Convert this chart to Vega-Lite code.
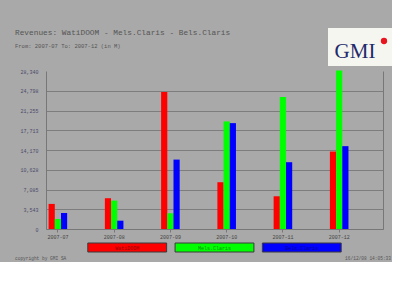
{
  "$schema": "https://vega.github.io/schema/vega-lite/v6.json",
  "background": "#a9a9a9",
  "padding": {"left": 15, "top": 28, "right": 0, "bottom": 0},
  "config": {
    "view": {"stroke": null},
    "font": "Liberation Mono",
    "axis": {"labelFont": "Liberation Mono"}
  },
  "datasets": {
    "revenue": [
      {"period": "2007-07", "series": "WatiDOOM", "revenue": 4500},
      {"period": "2007-07", "series": "Mels.Claris", "revenue": 1800},
      {"period": "2007-07", "series": "Bels.Claris", "revenue": 2870},
      {"period": "2007-08", "series": "WatiDOOM", "revenue": 5520},
      {"period": "2007-08", "series": "Mels.Claris", "revenue": 5090},
      {"period": "2007-08", "series": "Bels.Claris", "revenue": 1490},
      {"period": "2007-09", "series": "WatiDOOM", "revenue": 24570},
      {"period": "2007-09", "series": "Mels.Claris", "revenue": 2820},
      {"period": "2007-09", "series": "Bels.Claris", "revenue": 12450},
      {"period": "2007-10", "series": "WatiDOOM", "revenue": 8390},
      {"period": "2007-10", "series": "Mels.Claris", "revenue": 19290},
      {"period": "2007-10", "series": "Bels.Claris", "revenue": 18990},
      {"period": "2007-11", "series": "WatiDOOM", "revenue": 5870},
      {"period": "2007-11", "series": "Mels.Claris", "revenue": 23660},
      {"period": "2007-11", "series": "Bels.Claris", "revenue": 11980},
      {"period": "2007-12", "series": "WatiDOOM", "revenue": 13890},
      {"period": "2007-12", "series": "Mels.Claris", "revenue": 28450},
      {"period": "2007-12", "series": "Bels.Claris", "revenue": 14860}
    ],
    "header": [
      {"kind": "title", "text": "Revenues: WatiDOOM - Mels.Claris - Bels.Claris"},
      {"kind": "subtitle", "text": "From: 2007-07 To: 2007-12 (in M)"}
    ],
    "logo": [{"name": "GMI"}],
    "series": [
      {"series": "WatiDOOM"},
      {"series": "Mels.Claris"},
      {"series": "Bels.Claris"}
    ],
    "footer": [
      {"side": "left", "text": "copyright by GMI SA"},
      {"side": "right", "text": "16/12/08 14:05:33"}
    ]
  },
  "spacing": 3,
  "vconcat": [
    {
      "spacing": 0,
      "hconcat": [
        {
          "width": 282,
          "height": 38,
          "data": {"name": "header"},
          "layer": [
            {
              "transform": [{"filter": "datum.kind === 'title'"}],
              "mark": {"type": "text", "align": "left", "dx": -31, "fontSize": 7.8, "color": "#555555", "font": "Liberation Mono"},
              "encoding": {
                "x": {"datum": 0, "type": "quantitative", "scale": {"domain": [0, 1]}, "axis": null},
                "y": {"field": "kind", "type": "nominal", "scale": {"type": "point", "domain": ["title", "subtitle"], "padding": 1.4, "align": 0.214}, "axis": null},
                "text": {"field": "text"}
              }
            },
            {
              "transform": [{"filter": "datum.kind === 'subtitle'"}],
              "mark": {"type": "text", "align": "left", "dx": -31, "fontSize": 5.5, "color": "#555555", "font": "Liberation Mono"},
              "encoding": {
                "x": {"datum": 0, "type": "quantitative", "scale": {"domain": [0, 1]}, "axis": null},
                "y": {"field": "kind", "type": "nominal", "scale": {"type": "point", "domain": ["title", "subtitle"], "padding": 1.4, "align": 0.214}, "axis": null},
                "text": {"field": "text"}
              }
            }
          ]
        },
        {
          "width": 64,
          "height": 38,
          "view": {"fill": "#f6f6f1", "stroke": null},
          "data": {"name": "logo"},
          "layer": [
            {
              "mark": {"type": "text", "font": "Liberation Serif", "fontSize": 21, "color": "#1f2a6b", "dx": -5, "dy": 5},
              "encoding": {"text": {"field": "name"}}
            },
            {
              "mark": {"type": "circle", "color": "#e8141e", "opacity": 1, "size": 40, "xOffset": 24, "yOffset": -6},
              "encoding": {}
            }
          ]
        }
      ]
    },
    {
      "width": 337,
      "height": 158,
      "data": {"name": "revenue"},
      "layer": [
        {
          "mark": {"type": "bar"},
          "encoding": {
            "x": {
              "field": "period", "type": "nominal", "sort": null,
              "scale": {"paddingInner": 0.67, "paddingOuter": 0.33, "align": 0.07},
              "axis": {"title": null, "labelAngle": 0, "labelFontSize": 5, "labelColor": "#444444", "tickSize": 3, "tickColor": "#777777", "domainColor": "#777777", "labelPadding": 2}
            },
            "xOffset": {"field": "series", "type": "nominal", "scale": {"domain": ["WatiDOOM", "Mels.Claris", "Bels.Claris"]}},
            "y": {
              "field": "revenue", "type": "quantitative",
              "scale": {"domain": [0, 28340], "nice": false},
              "axis": {
                "title": null,
                "values": [0, 3542.5, 7085, 10627.5, 14170, 17712.5, 21255, 24797.5, 28340],
                "format": ",.0f",
                "labelFontSize": 5,
                "labelColor": "#4a4a6a",
                "ticks": false,
                "labelPadding": 8,
                "domainColor": "#777777",
                "gridColor": "#7d7d7d",
                "gridOpacity": {"condition": {"test": "datum.value > 28000", "value": 0}, "value": 1}
              }
            },
            "color": {
              "field": "series", "type": "nominal",
              "scale": {"domain": ["WatiDOOM", "Mels.Claris", "Bels.Claris"], "range": ["#ff0000", "#00ff00", "#0000ff"]},
              "legend": null
            }
          }
        },
        {
          "mark": {"type": "bar", "opacity": 0},
          "encoding": {
            "x": {"field": "period", "type": "nominal", "sort": null},
            "xOffset": {"field": "series", "type": "nominal", "scale": {"domain": ["WatiDOOM", "Mels.Claris", "Bels.Claris"]}},
            "y": {
              "field": "revenue", "type": "quantitative",
              "axis": {"orient": "right", "title": null, "labels": false, "ticks": false, "grid": false, "domainColor": "#777777"}
            }
          }
        }
      ],
      "resolve": {"axis": {"y": "independent"}}
    },
    {
      "width": 337,
      "height": 9,
      "data": {"name": "series"},
      "layer": [
        {
          "mark": {"type": "bar", "stroke": "#3a3a3a", "strokeWidth": 1},
          "encoding": {
            "x": {"field": "series", "type": "nominal", "sort": null, "scale": {"domain": ["WatiDOOM", "Mels.Claris", "Bels.Claris"], "paddingInner": 0.097, "paddingOuter": 0.479}, "axis": null},
            "color": {"field": "series", "type": "nominal", "scale": {"domain": ["WatiDOOM", "Mels.Claris", "Bels.Claris"], "range": ["#ff0000", "#00ff00", "#0000ff"]}, "legend": null}
          }
        },
        {
          "mark": {"type": "text", "fontSize": 5, "color": "#000000", "opacity": 0.45},
          "encoding": {
            "x": {"field": "series", "type": "nominal", "sort": null, "axis": null},
            "text": {"field": "series"}
          }
        }
      ]
    },
    {
      "width": 337,
      "height": 6,
      "data": {"name": "footer"},
      "layer": [
        {
          "transform": [{"filter": "datum.side === 'left'"}],
          "mark": {"type": "text", "align": "left", "dx": -31, "fontSize": 4.5, "color": "#555555"},
          "encoding": {
            "x": {"datum": 0, "type": "quantitative", "scale": {"domain": [0, 1]}, "axis": null},
            "text": {"field": "text"}
          }
        },
        {
          "transform": [{"filter": "datum.side === 'right'"}],
          "mark": {"type": "text", "align": "right", "dx": 8, "fontSize": 4.5, "color": "#555555"},
          "encoding": {
            "x": {"datum": 1, "type": "quantitative", "scale": {"domain": [0, 1]}, "axis": null},
            "text": {"field": "text"}
          }
        }
      ]
    }
  ]
}
